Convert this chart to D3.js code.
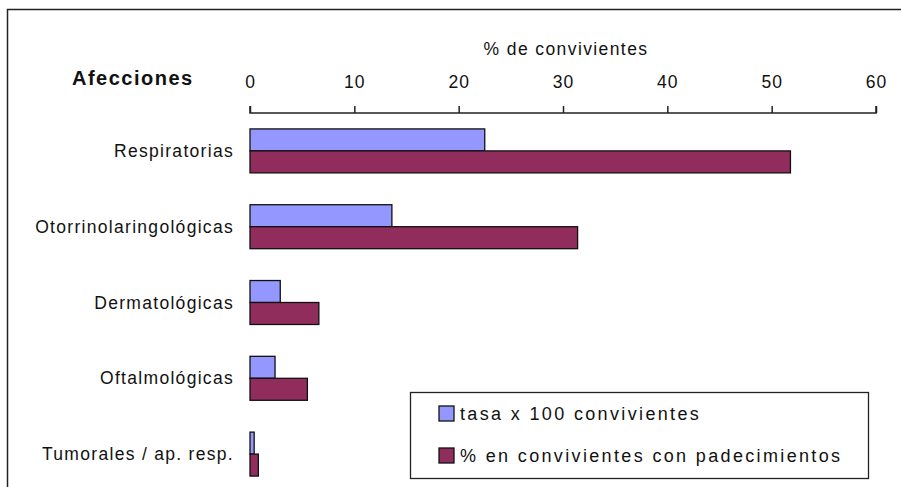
<!DOCTYPE html>
<html>
<head>
<meta charset="utf-8">
<script src="https://cdn.jsdelivr.net/npm/d3@7"></script>
<style>
  html, body { margin: 0; padding: 0; background: #fff; }
  svg { display: block; font-family: "Liberation Sans", Arial, sans-serif; }
</style>
</head>
<body>
<svg id="chart" width="901" height="487"></svg>
<script>
const categories = ["Respiratorias", "Otorrinolaringológicas", "Dermatológicas", "Oftalmológicas", "Tumorales / ap. resp."];
const seriesNames = ["tasa x 100 convivientes", "% en convivientes con padecimientos"];
const tasa = [22.5, 13.6, 2.9, 2.4, 0.4];
const pctPadecimientos = [51.8, 31.4, 6.6, 5.5, 0.8];
const tickValues = [0, 10, 20, 30, 40, 50, 60];
const colors = ["#9397FE", "#912D5D"];

const svg = d3.select("#chart");

// outer frame
svg.append("rect").attr("x", 7.5).attr("y", 9.5).attr("width", 1000).attr("height", 1000)
  .attr("fill", "none").attr("stroke", "#222").attr("stroke-width", 1.5);

const x = d3.scaleLinear().domain([0, 60]).range([250, 876]);
const y = d3.scaleBand().domain(categories).range([113, 492]).paddingInner(0.42).paddingOuter(0.21);
const ySub = d3.scaleBand().domain([0, 1]).range([0, y.bandwidth()]);

// axis on top
const axis = d3.axisTop(x).tickValues(tickValues).tickSize(7).tickPadding(18).tickFormat(d3.format("d"));
const ax = svg.append("g").attr("transform", "translate(0,113)").call(axis);
ax.select(".domain").attr("stroke", "#222").attr("stroke-width", 1.5).attr("d", `M${x(0)},-7V0H${x(60)}V-7`);
ax.selectAll(".tick line").attr("stroke", "#222").attr("stroke-width", 1.5);
ax.selectAll(".tick text").attr("font-size", 17.5).attr("fill", "#111")
  .attr("font-family", "\"Liberation Sans\", Arial, sans-serif").style("letter-spacing", "1px");

// axis title
svg.append("text").attr("x", (x(0) + x(60)) / 2 + 3).attr("y", 55).attr("text-anchor", "middle")
  .attr("font-size", 17.5).attr("fill", "#111").style("letter-spacing", "1.4px").text("% de convivientes");

// category header
svg.append("text").attr("x", 72).attr("y", 85).attr("font-size", 20).attr("font-weight", "bold")
  .attr("fill", "#111").style("letter-spacing", "1.5px").text("Afecciones");

// category labels
svg.append("g").selectAll("text").data(categories).join("text")
  .attr("x", 234).attr("y", d => y(d) + y.bandwidth() / 2 + 6)
  .attr("text-anchor", "end").attr("font-size", 17.5).attr("fill", "#111")
  .style("letter-spacing", "1.3px").text(d => d);

// bars
const series = [tasa, pctPadecimientos];
series.forEach((vals, si) => {
  svg.append("g").selectAll("rect").data(vals).join("rect")
    .attr("x", x(0))
    .attr("y", (d, i) => y(categories[i]) + ySub(si))
    .attr("width", d => x(d) - x(0))
    .attr("height", ySub.bandwidth())
    .attr("fill", colors[si]).attr("stroke", "#111").attr("stroke-width", 1.3);
});

// legend
const lg = svg.append("g");
lg.append("rect").attr("x", 410.5).attr("y", 392.5).attr("width", 458).attr("height", 86)
  .attr("fill", "#fff").attr("stroke", "#222").attr("stroke-width", 1.3);
const legendY = [413, 455];
seriesNames.forEach((name, i) => {
  lg.append("rect").attr("x", 439).attr("y", legendY[i] - 7).attr("width", 15).attr("height", 15)
    .attr("fill", colors[i]).attr("stroke", "#111").attr("stroke-width", 1.3);
  lg.append("text").attr("x", 460).attr("y", legendY[i] + 6.5).attr("font-size", 18).attr("fill", "#111")
    .style("letter-spacing", "2.35px").text(name);
});
</script>
</body>
</html>
